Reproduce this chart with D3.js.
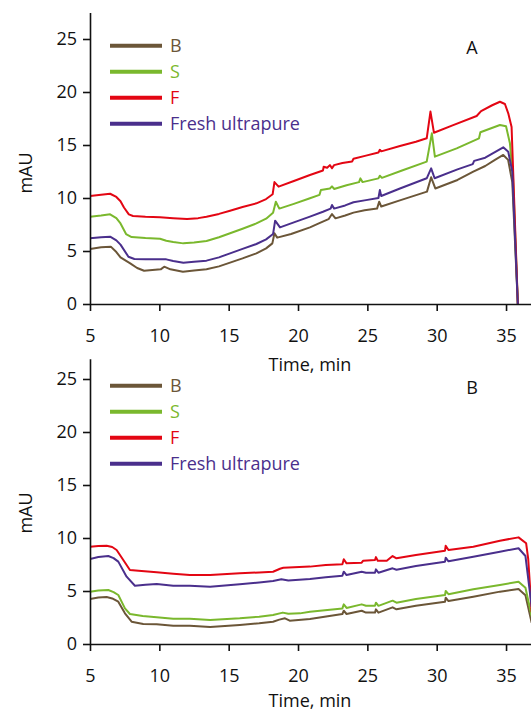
<!DOCTYPE html>
<html>
<head>
<meta charset="utf-8">
<script src="https://cdn.jsdelivr.net/npm/d3@7/dist/d3.min.js"></script>
<style>
html,body{margin:0;padding:0;background:#fff;}
svg{display:block;}
text{font-family:"Open Sans","Noto Sans",sans-serif;}
</style>
</head>
<body>
<svg id="chart" width="531" height="714"></svg>
<script>
// ---------- DATA ----------
const seriesNames = ["B", "S", "F", "Fresh ultrapure"];
const seriesColors = ["#6b5638", "#7ab82d", "#e30613", "#4a2f8c"];
const xTicks = [5, 10, 15, 20, 25, 30, 35];
const yTicks = [0, 5, 10, 15, 20, 25];
const panelLabels = ["A", "B"];
const xTitle = "Time, min";
const yTitle = "mAU";

// Panel A: [time (min), absorbance (mAU)]
const topB = [[5.0,5.19],[5.8,5.35],[6.5,5.41],[6.9,4.9],[7.2,4.4],[7.9,3.84],[8.4,3.4],[8.9,3.14],[9.5,3.2],[10.1,3.27],[10.35,3.52],[10.8,3.27],[11.7,3.05],[12.5,3.15],[13.4,3.27],[14.3,3.55],[15.1,3.9],[16.0,4.3],[17.0,4.78],[17.7,5.25],[18.15,5.72],[18.3,6.67],[18.5,6.26],[19.5,6.6],[20.86,7.23],[21.5,7.6],[22.2,8.0],[22.45,8.49],[22.7,8.08],[23.4,8.35],[24.0,8.62],[24.8,8.85],[25.7,9.0],[25.85,9.65],[26.0,9.2],[27.4,9.8],[29.3,10.6],[29.6,11.95],[29.9,10.9],[31.5,11.7],[32.64,12.48],[33.5,13.02],[34.2,13.6],[34.8,14.06],[35.15,13.6],[35.45,11.5],[35.85,0]];
const topS = [[5.0,8.24],[5.8,8.35],[6.45,8.46],[6.9,8.1],[7.2,7.6],[7.6,6.6],[8.0,6.32],[9.0,6.22],[10.05,6.16],[10.5,5.97],[11.0,5.85],[11.73,5.72],[12.5,5.8],[13.4,5.94],[14.3,6.3],[15.1,6.67],[16.0,7.1],[17.0,7.6],[17.7,8.05],[18.2,8.6],[18.4,9.65],[18.65,9.0],[19.7,9.45],[20.86,9.97],[21.55,10.3],[21.65,10.75],[22.3,10.9],[22.45,11.1],[22.6,10.85],[23.5,11.2],[24.4,11.5],[24.5,11.85],[24.65,11.5],[25.8,11.85],[25.9,12.1],[26.05,11.9],[27.5,12.6],[29.28,13.43],[29.65,16.1],[29.87,13.9],[31.44,14.68],[33.05,15.63],[33.15,16.2],[34.56,16.89],[35.0,16.76],[35.28,15.16],[35.5,12.0],[35.85,0]];
const topF = [[5.0,10.2],[5.8,10.3],[6.45,10.4],[6.9,10.1],[7.2,9.7],[7.45,9.1],[7.8,8.45],[8.1,8.3],[9.0,8.22],[10.05,8.18],[11.0,8.1],[12.0,8.02],[12.8,8.1],[13.4,8.24],[14.3,8.5],[15.1,8.8],[16.0,9.15],[17.0,9.5],[17.7,9.9],[18.17,10.35],[18.3,11.5],[18.6,11.07],[19.7,11.6],[20.86,12.17],[21.8,12.6],[21.85,12.95],[22.1,12.85],[22.3,13.1],[22.45,12.8],[22.6,13.1],[23.2,13.3],[23.9,13.45],[24.0,13.7],[24.9,14.0],[25.8,14.3],[25.9,14.55],[26.0,14.4],[27.35,14.9],[28.5,15.3],[29.28,15.63],[29.55,18.15],[29.8,16.16],[31.19,16.88],[32.88,17.74],[33.2,18.2],[34.0,18.75],[34.56,19.08],[34.92,18.87],[35.16,17.99],[35.4,16.7],[35.85,0]];
const topU = [[5.0,6.2],[5.8,6.3],[6.45,6.35],[6.9,6.0],[7.2,5.6],[7.77,4.46],[8.2,4.25],[9.0,4.22],[10.5,4.21],[11.0,4.05],[11.73,3.9],[12.5,3.98],[13.4,4.09],[14.3,4.4],[15.1,4.78],[16.0,5.2],[17.0,5.66],[17.7,6.1],[18.2,6.6],[18.35,7.86],[18.7,7.23],[19.7,7.7],[20.86,8.24],[21.8,8.7],[22.35,9.0],[22.45,9.34],[22.6,9.0],[23.4,9.3],[24.0,9.6],[24.9,9.8],[25.8,10.0],[25.9,10.75],[26.0,10.19],[27.35,10.9],[29.28,11.86],[29.6,12.8],[29.85,11.86],[31.5,12.7],[32.6,13.2],[32.7,13.5],[33.5,13.8],[34.8,14.78],[35.16,14.37],[35.45,12.5],[35.85,0]];

// Panel B
const botB = [[5.0,4.25],[5.6,4.38],[6.2,4.43],[6.6,4.3],[7.04,3.99],[7.52,2.89],[8.0,2.1],[8.84,1.89],[9.81,1.86],[11.0,1.73],[12.2,1.73],[13.66,1.6],[15.8,1.79],[17.2,1.95],[18.2,2.1],[18.65,2.3],[19.06,2.42],[19.4,2.2],[20.86,2.36],[23.2,2.83],[23.3,3.14],[23.5,2.83],[24.59,3.14],[24.9,2.96],[25.55,2.96],[25.62,3.27],[25.8,2.96],[26.82,3.46],[27.1,3.27],[28.5,3.6],[30.6,3.99],[30.65,4.37],[30.85,4.05],[32.64,4.46],[34.56,4.94],[35.9,5.19],[36.4,4.6],[36.85,2.0]];
const botS = [[5.0,4.94],[5.6,5.05],[6.32,5.09],[6.7,4.9],[7.04,4.62],[7.52,3.36],[7.88,2.83],[8.8,2.65],[9.81,2.52],[11.0,2.39],[12.2,2.39],[13.66,2.26],[15.8,2.42],[17.2,2.58],[18.2,2.74],[18.9,2.96],[19.3,2.85],[20.14,2.89],[20.86,3.05],[23.2,3.36],[23.3,3.74],[23.5,3.4],[24.59,3.74],[24.9,3.61],[25.55,3.61],[25.62,3.9],[25.8,3.6],[26.82,4.09],[27.1,3.9],[28.5,4.25],[30.6,4.62],[30.65,5.0],[30.85,4.7],[32.64,5.16],[34.56,5.57],[35.9,5.88],[36.4,5.3],[36.85,2.6]];
const botF = [[5.0,9.18],[5.6,9.25],[6.2,9.27],[6.6,9.15],[6.92,8.87],[7.4,7.92],[7.88,6.98],[8.5,6.9],[9.81,6.76],[11.0,6.62],[12.2,6.5],[13.66,6.5],[15.8,6.67],[17.2,6.75],[18.2,6.82],[18.7,7.1],[18.94,7.2],[20.86,7.3],[22.0,7.45],[23.2,7.52],[23.3,7.99],[23.5,7.61],[24.59,7.67],[24.7,7.86],[25.55,7.92],[25.62,8.2],[25.75,7.86],[26.4,7.86],[26.82,8.3],[27.1,8.08],[28.5,8.4],[30.6,8.8],[30.65,9.27],[30.85,8.87],[32.64,9.18],[34.56,9.75],[35.9,10.06],[36.45,9.5],[36.6,8.0],[36.85,3.0]];
const botU = [[5.0,8.02],[5.6,8.2],[6.32,8.3],[6.7,8.1],[7.04,7.77],[7.64,6.35],[8.24,5.5],[9.0,5.6],[9.81,5.66],[11.0,5.5],[12.2,5.5],[13.66,5.41],[15.8,5.63],[17.2,5.8],[18.2,5.94],[18.8,6.1],[19.3,6.0],[20.86,6.13],[22.0,6.3],[23.2,6.45],[23.3,6.82],[23.5,6.5],[24.59,6.82],[24.9,6.72],[25.55,6.72],[25.62,7.04],[25.8,6.72],[26.82,7.14],[27.1,7.0],[28.5,7.35],[30.6,7.77],[30.65,8.14],[30.85,7.8],[32.64,8.24],[34.56,8.71],[35.9,9.03],[36.4,8.3],[36.85,3.5]];

const panelSeries = [[topB, topS, topF, topU], [botB, botS, botF, botU]];

// ---------- LAYOUT ----------
const svg = d3.select("#chart");
const panels = [
  {offset: 0, yMax: 27.5, titleY: 371},
  {offset: 340, yMax: 26.9, titleY: 707}
];
const x = d3.scaleLinear().domain([5, 36.8]).range([90, 531]);

panels.forEach((p, i) => {
  const y0 = 304 + p.offset;
  const y = d3.scaleLinear().domain([0, p.yMax]).range([y0, y0 - p.yMax * 10.6]);
  const g = svg.append("g");

  const line = d3.line().x(d => x(d[0])).y(d => y(d[1]));
  const clipId = "clip" + i;
  svg.append("clipPath").attr("id", clipId).append("rect")
    .attr("x", 90).attr("y", y(p.yMax)).attr("width", 441).attr("height", y0 - y(p.yMax));

  panelSeries[i].forEach((s, k) => {
    g.append("path").datum(s)
      .attr("clip-path", `url(#${clipId})`)
      .attr("fill", "none")
      .attr("stroke", seriesColors[k])
      .attr("stroke-width", 2)
      .attr("stroke-linejoin", "round")
      .attr("d", line);
  });

  const xa = g.append("g").attr("transform", `translate(0,${y0})`)
    .call(d3.axisBottom(x).tickValues(xTicks).tickSize(7).tickSizeOuter(0).tickPadding(18));
  const ya = g.append("g").attr("transform", `translate(90,0)`)
    .call(d3.axisLeft(y).tickValues(yTicks).tickSize(7).tickSizeOuter(0).tickPadding(6));
  [xa, ya].forEach(a => {
    a.selectAll("path,line").attr("stroke", "#111").attr("stroke-width", 1.6);
    a.selectAll("text").attr("font-size", 18).attr("fill", "#111")
      .style("font-family", '"Open Sans","Noto Sans",sans-serif');
  });

  g.append("text").attr("x", 310).attr("y", p.titleY)
    .attr("text-anchor", "middle").attr("font-size", 18).attr("fill", "#111").text(xTitle);
  g.append("text").attr("transform", `translate(32,${173 + p.offset}) rotate(-90)`)
    .attr("text-anchor", "middle").attr("font-size", 18).attr("fill", "#111").text(yTitle);
  g.append("text").attr("x", 472).attr("y", 54 + p.offset)
    .attr("text-anchor", "middle").attr("font-size", 18).attr("fill", "#111").text(panelLabels[i]);

  seriesNames.forEach((n, k) => {
    const ly = 45.7 + k * 26 + p.offset;
    g.append("line").attr("x1", 110).attr("x2", 162).attr("y1", ly).attr("y2", ly)
      .attr("stroke", seriesColors[k]).attr("stroke-width", 4);
    g.append("text").attr("x", 170).attr("y", ly + 6.5)
      .attr("font-size", 18).attr("fill", seriesColors[k]).text(n);
  });
});
</script>
</body>
</html>
